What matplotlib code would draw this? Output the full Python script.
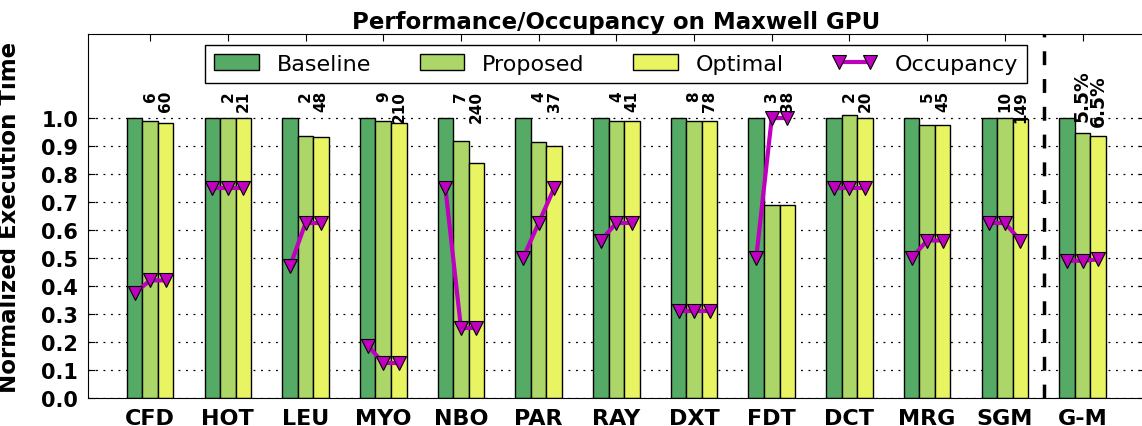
import matplotlib
matplotlib.use("Agg")
import matplotlib.pyplot as plt
import numpy as np

apps = ["CFD", "HOT", "LEU", "MYO", "NBO", "PAR", "RAY", "DXT", "FDT", "DCT", "MRG", "SGM", "G-M"]

baseline = [1.0] * 13
proposed = [0.988, 1.0, 0.934, 0.988, 0.917, 0.914, 0.988, 0.988, 0.69, 1.01, 0.976, 1.0, 0.946]
optimal = [0.983, 1.0, 0.932, 0.982, 0.841, 0.899, 0.988, 0.988, 0.69, 1.0, 0.976, 0.995, 0.934]

# occupancy for baseline / proposed / optimal, one triple per app
occupancy = [
    [0.375, 0.42, 0.42],
    [0.75, 0.75, 0.75],
    [0.47, 0.625, 0.625],
    [0.1875, 0.125, 0.125],
    [0.75, 0.25, 0.25],
    [0.5, 0.625, 0.75],
    [0.5625, 0.625, 0.625],
    [0.3125, 0.3125, 0.3125],
    [0.5, 1.0, 1.0],
    [0.75, 0.75, 0.75],
    [0.5, 0.5625, 0.5625],
    [0.625, 0.625, 0.5625],
    [0.49, 0.49, 0.495],
]

# numbers printed above proposed / optimal bars
proposed_labels = ["6", "2", "2", "9", "7", "4", "4", "8", "3", "2", "5", "10", "5.5%"]
optimal_labels = ["60", "21", "48", "210", "240", "37", "41", "78", "38", "20", "45", "149", "6.5%"]

c_base = "#55aa66"
c_prop = "#acd668"
c_opt = "#e8f462"
c_occ = "#bf00bf"

w = 0.2
x = np.arange(len(apps))

fig = plt.figure(figsize=(11.42, 4.27), dpi=100)
ax = fig.add_axes([88 / 1142, 28 / 427, 1056.7 / 1142, 364 / 427])

b1 = ax.bar(x - w, baseline, w, color=c_base, edgecolor="black", linewidth=1, zorder=2)
b2 = ax.bar(x, proposed, w, color=c_prop, edgecolor="black", linewidth=1, zorder=2)
b3 = ax.bar(x + w, optimal, w, color=c_opt, edgecolor="black", linewidth=1, zorder=2)

for i in range(len(apps)):
    ln, = ax.plot([x[i] - w, x[i], x[i] + w], occupancy[i], color=c_occ, lw=3,
                  marker="v", ms=10, mfc=c_occ, mec="black", mew=0.8, zorder=4)

for i in range(len(apps) - 1):
    ax.text(x[i], 1.1, proposed_labels[i], rotation=90, ha="center", va="top",
            fontsize=11, fontweight="bold", zorder=5)
    ax.text(x[i] + w, 1.1, optimal_labels[i], rotation=90, ha="center", va="top",
            fontsize=11, fontweight="bold", zorder=5)

# geo-mean percentages sit just above their bars
g = len(apps) - 1
ax.text(x[g], proposed[g] + 0.045, proposed_labels[g], rotation=90, ha="center", va="bottom",
        fontsize=13.5, fontweight="bold", zorder=5)
ax.text(x[g] + w, optimal[g] + 0.038, optimal_labels[g], rotation=90, ha="center", va="bottom",
        fontsize=13.5, fontweight="bold", zorder=5)

ax.axvline(11.5, color="black", linestyle="--", lw=2.5, dashes=(4, 4), zorder=3)

ax.set_xlim(-0.8, 12.8)
ax.set_ylim(0, 1.3)
ax.set_xticks(x)
ax.set_xticklabels(apps, fontsize=16, fontweight="bold")
yt = np.arange(0, 1.01, 0.1)
ax.set_yticks(yt)
ax.set_yticklabels(["%.1f" % v for v in yt], fontsize=15, fontweight="bold")
ax.tick_params(direction="in", top=True, right=True, length=5, pad=7)
ax.yaxis.grid(True, color="black", linestyle=(0, (1.5, 4.5)), lw=0.9)
ax.set_axisbelow(True)
ax.spines["right"].set_visible(False)

ax.set_ylabel("Normalized Execution Time", fontsize=16.5, fontweight="bold")
ax.yaxis.set_label_coords(-0.063, 0.5)
ax.set_title("Performance/Occupancy on Maxwell GPU", fontsize=16.5, fontweight="bold", pad=4)

leg = ax.legend([b1, b2, b3, ln], ["Baseline", "Proposed", "Optimal", "Occupancy"],
                loc="upper center", ncol=4, fontsize=16, numpoints=2, fancybox=False,
                framealpha=1, edgecolor="black", borderaxespad=0.5,
                columnspacing=2.2, bbox_to_anchor=(0.5, 1.0))
leg.get_frame().set_linewidth(1)

fig.savefig("out.png", dpi=100)
